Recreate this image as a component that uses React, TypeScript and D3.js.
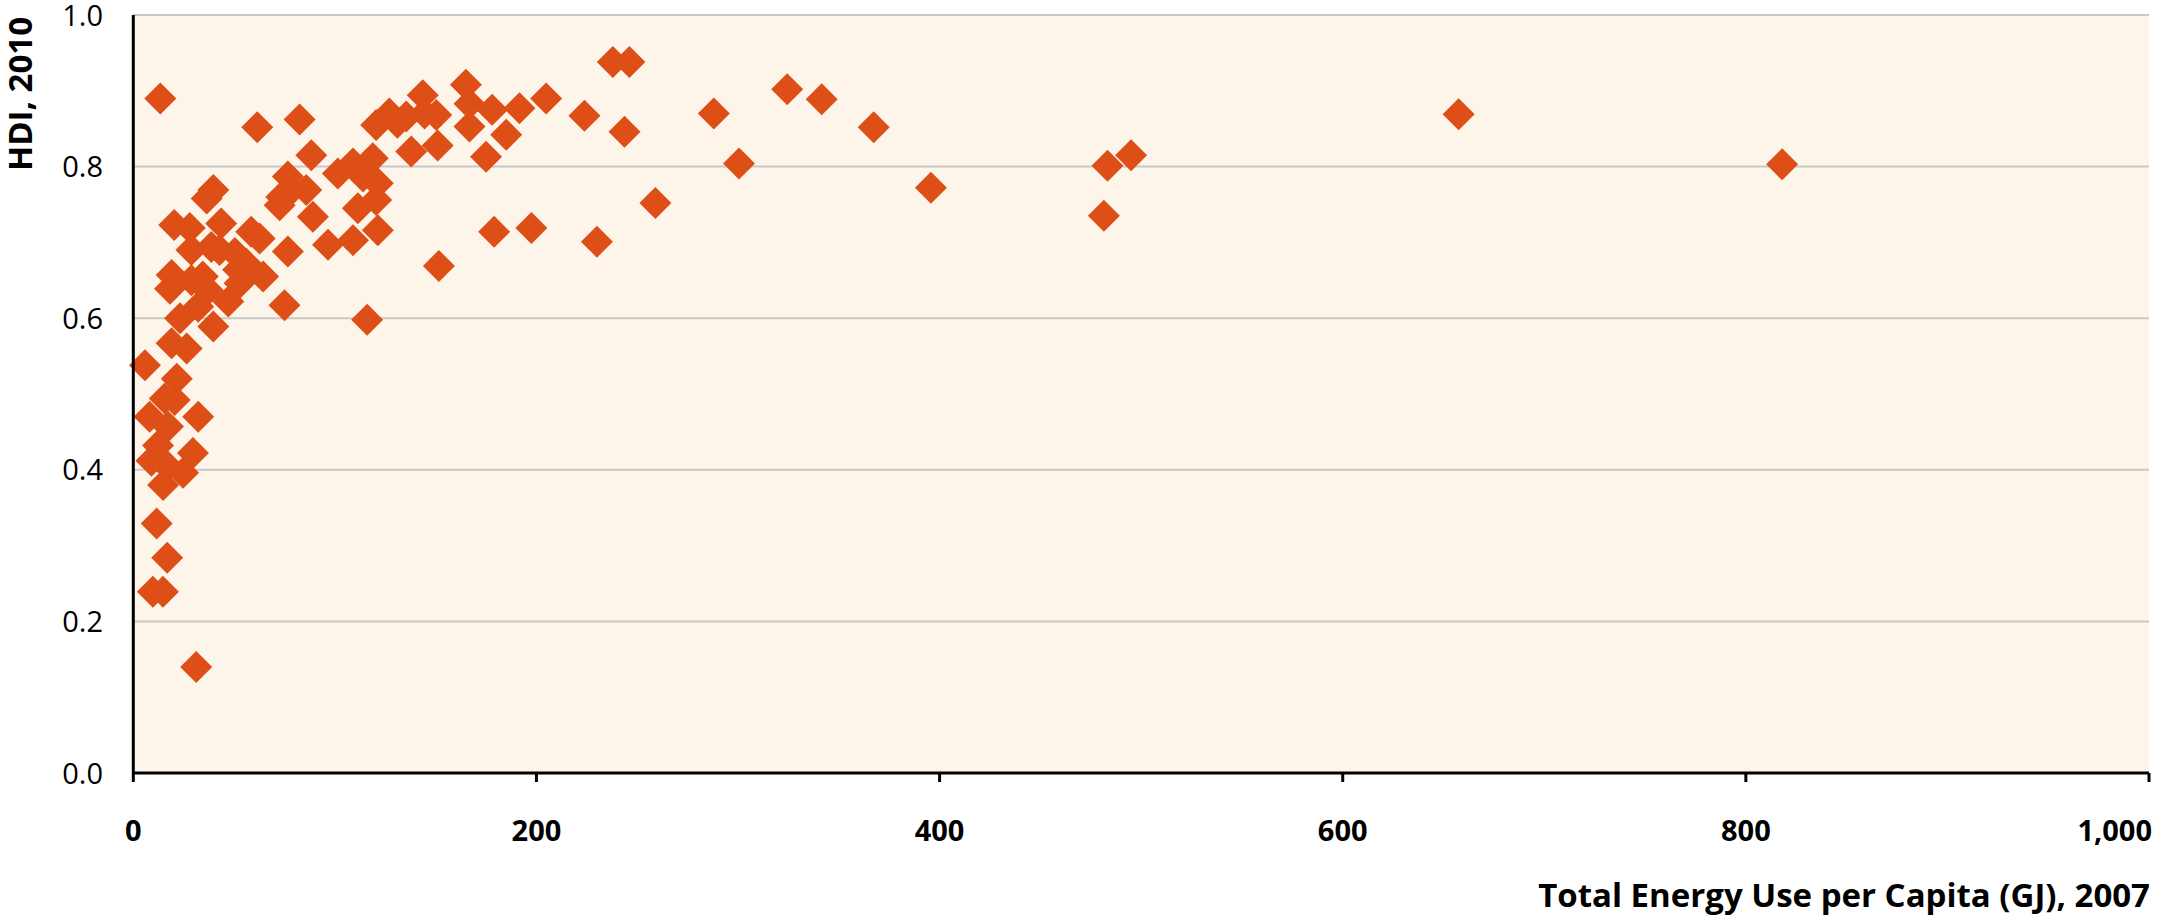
import React from "react";
import * as d3 from "d3";

// Total energy use per capita (GJ), 2007
const energyGJ: number[] = [
  5.8, 21.6, 15.6, 20.5, 8.1, 32.2, 17.2, 12.3, 29.6, 9.0,
  17.2, 24.7, 14.8, 11.6, 16.8, 9.7, 14.7, 31.2, 13.4, 19.0,
  26.5, 23.2, 39.7, 32.2, 47.1, 18.2, 28.8, 37.0, 19.0, 52.0,
  64.4, 28.8, 38.7, 50.4, 28.0, 20.3, 43.6, 58.5, 62.7, 36.4,
  39.7, 76.7, 75.0, 116.0, 73.4, 79.2, 89.1, 96.6, 109.0, 111.4,
  121.3, 121.3, 101.5, 88.3, 61.5, 82.5, 85.8, 109.0, 118.8, 114.0,
  120.5, 120.5, 127.0, 135.4, 143.6, 150.3, 151.0, 137.9, 165.0, 166.8,
  175.0, 178.0, 185.0, 179.0, 151.6, 56.0, 42.8, 237.9, 246.1, 204.8,
  191.6, 166.8, 223.8, 243.7, 288.0, 324.4, 341.5, 367.3, 300.5, 259.0,
  197.5, 230.0, 144.5, 131.0, 395.7, 483.3, 495.0, 481.5, 657.5, 818.0,
  76.7, 72.6, 52.7, 34.5,
];

// Human Development Index, 2010
const hdi: number[] = [
  0.538, 0.520, 0.494, 0.492, 0.470, 0.470, 0.457, 0.432, 0.422, 0.412,
  0.404, 0.396, 0.380, 0.329, 0.284, 0.239, 0.239, 0.140, 0.890, 0.567,
  0.560, 0.600, 0.589, 0.615, 0.622, 0.639, 0.650, 0.637, 0.657, 0.664,
  0.655, 0.690, 0.694, 0.686, 0.719, 0.723, 0.725, 0.714, 0.705, 0.758,
  0.769, 0.688, 0.617, 0.598, 0.760, 0.771, 0.734, 0.697, 0.703, 0.745,
  0.716, 0.778, 0.791, 0.815, 0.852, 0.862, 0.769, 0.804, 0.811, 0.787,
  0.756, 0.855, 0.870, 0.866, 0.894, 0.868, 0.828, 0.820, 0.908, 0.853,
  0.813, 0.875, 0.842, 0.714, 0.669, 0.672, 0.690, 0.938, 0.938, 0.890,
  0.877, 0.883, 0.867, 0.846, 0.870, 0.902, 0.889, 0.852, 0.804, 0.752,
  0.719, 0.701, 0.870, 0.858, 0.772, 0.801, 0.815, 0.735, 0.869, 0.803,
  0.787, 0.749, 0.646, 0.655,
];

const xTicks: number[] = [0, 200, 400, 600, 800, 1000];
const yTicks: number[] = [0, 0.2, 0.4, 0.6, 0.8, 1.0];
const xTitle = "Total Energy Use per Capita (GJ), 2007";
const yTitle = "HDI, 2010";

const W = 2161;
const H = 923;
const left = 133.3;
const right = 2149;
const top = 15;
const bottom = 773;
const FONT = "'Open Sans', 'Noto Sans', sans-serif";
const MARK = "#DE4E17";

export default function App() {
  const x = d3.scaleLinear().domain([0, 1000]).range([left, right]);
  const y = d3.scaleLinear().domain([0, 1]).range([bottom, top]);
  const sym = d3.symbol().type(d3.symbolSquare).size(512)();
  const pts = energyGJ.map((e, i) => ({ e, h: hdi[i] }));
  const fmtX = d3.format(",");
  const lastX = xTicks[xTicks.length - 1];
  return (
    <div style={{ position: "absolute", left: 0, top: 0 }}>
      <svg width={W} height={H} style={{ display: "block" }}>
        <rect x={left} y={top} width={right - left} height={bottom - top} fill="#FEF5EA" />
        {yTicks.map((t) => (
          <line key={"g" + t} x1={left} x2={right} y1={y(t)} y2={y(t)} stroke="#C8C8C8" strokeWidth={2} />
        ))}
        {pts.map((p, i) => (
          <path
            key={i}
            d={sym || ""}
            transform={`translate(${x(p.e)},${y(p.h)}) rotate(45)`}
            fill={MARK}
          />
        ))}
        <line x1={left} x2={right} y1={bottom} y2={bottom} stroke="#000" strokeWidth={3} />
        {xTicks.map((t) => (
          <line key={"t" + t} x1={x(t)} x2={x(t)} y1={bottom} y2={bottom + 9} stroke="#000" strokeWidth={3} />
        ))}
        <line x1={left} x2={left} y1={top} y2={bottom} stroke="#000" strokeWidth={3} />
        {yTicks.map((t) => (
          <text
            key={"yl" + t}
            x={103}
            y={y(t) + 10.5}
            textAnchor="end"
            fontFamily={FONT}
            fontSize={29}
            fill="#000"
          >
            {t.toFixed(1)}
          </text>
        ))}
        {xTicks.map((t) => (
          <text
            key={"xl" + t}
            x={t === lastX ? x(t) + 3 : x(t)}
            y={841}
            textAnchor={t === lastX ? "end" : "middle"}
            fontFamily={FONT}
            fontSize={29}
            fontWeight="bold"
            fill="#000"
          >
            {fmtX(t)}
          </text>
        ))}
        <text
          x={2150}
          y={907}
          textAnchor="end"
          fontFamily={FONT}
          fontSize={33}
          fontWeight="bold"
          fill="#000"
        >
          {xTitle}
        </text>
        <text
          transform={`translate(32,${top + 2}) rotate(-90)`}
          textAnchor="end"
          fontFamily={FONT}
          fontSize={33}
          fontWeight="bold"
          fill="#000"
        >
          {yTitle}
        </text>
      </svg>
    </div>
  );
}
